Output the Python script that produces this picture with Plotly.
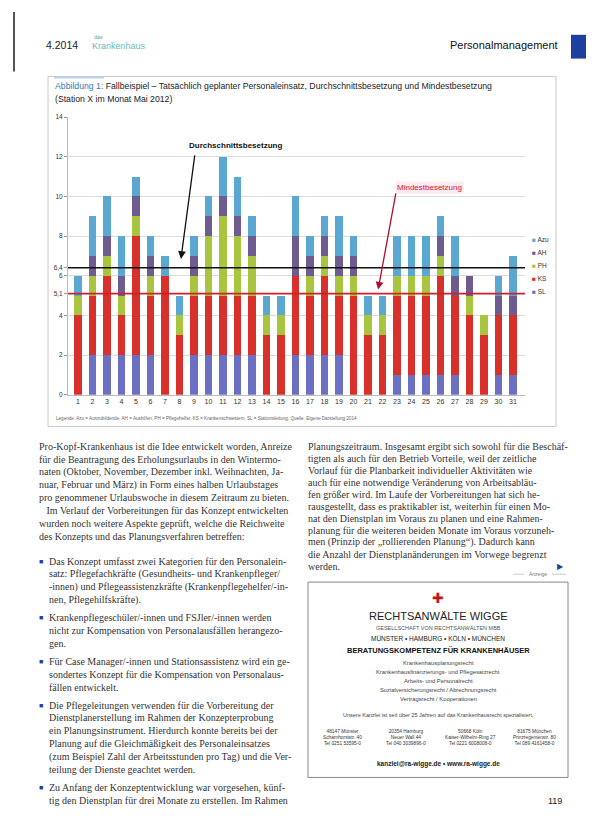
import plotly.graph_objects as go

W, H = 594, 824

def px(x):
    return x / W

def py(y):
    return 1 - y / H

# ---------------- data ----------------
days = list(range(1, 32))
day_labels = [str(d) for d in days]

series_names = ["SL", "KS", "PH", "AH", "Azu"]
sl  = [0, 2, 2, 2, 2, 2, 0, 0, 2, 2, 2, 2, 2, 0, 0, 2, 2, 2, 2, 0, 0, 0, 1, 1, 1, 1, 1, 0, 0, 1, 1]
ks  = [4, 3, 4, 2, 6, 3, 6, 3, 3, 3, 3, 3, 3, 3, 3, 4, 3, 4, 3, 5, 3, 3, 4, 4, 4, 5, 4, 4, 3, 3, 3]
ph  = [1, 1, 1, 1, 1, 1, 0, 1, 1, 3, 4, 3, 2, 1, 1, 0, 1, 1, 1, 1, 1, 1, 1, 1, 1, 1, 0, 1, 1, 0, 0]
ah  = [0, 1, 1, 1, 1, 1, 0, 0, 1, 1, 1, 1, 1, 0, 0, 2, 1, 1, 1, 1, 0, 0, 0, 0, 0, 1, 1, 1, 0, 1, 1]
azu = [1, 2, 2, 2, 1, 1, 1, 1, 1, 1, 2, 2, 1, 1, 1, 2, 1, 1, 2, 1, 1, 1, 2, 2, 2, 1, 2, 0, 0, 1, 2]
series_values = [sl, ks, ph, ah, azu]
series_colors = ["#6b70c2", "#d8302a", "#a9c43e", "#6e5b90", "#5aa7d2"]

avg_staff = 6.4
min_staff = 5.1

y_tick_vals = [0, 2, 4, 5.1, 6, 6.4, 8, 10, 12, 14]
y_tick_text = ["0", "2", "4", "5,1", "6", "6,4", "8", "10", "12", "14"]

title_line1 = "Fallbeispiel – Tatsächlich geplanter Personaleinsatz, Durchschnittsbesetzung und Mindestbesetzung"
title_line2 = "(Station X im Monat Mai 2012)"
source_text = "Legende: Azu = Auszubildende, AH = Aushilfen, PH = Pflegehelfer, KS = Krankenschwestern, SL = Stationsleitung; Quelle: Eigene Darstellung 2014"

left_col = [
    "Pro-Kopf-Krankenhaus ist die Idee entwickelt worden, Anreize",
    "für die Beantragung des Erholungsurlaubs in den Wintermo-",
    "naten (Oktober, November, Dezember inkl. Weihnachten, Ja-",
    "nuar, Februar und März) in Form eines halben Urlaubstages",
    "pro genommener Urlaubswoche in diesem Zeitraum zu bieten.",
    "   Im Verlauf der Vorbereitungen für das Konzept entwickelten",
    "wurden noch weitere Aspekte geprüft, welche die Reichweite",
    "des Konzepts und das Planungsverfahren betreffen:",
]
bullets = [
    ["Das Konzept umfasst zwei Kategorien für den Personalein-",
     "satz: Pflegefachkräfte (Gesundheits- und Krankenpfleger/",
     "-innen) und Pflegeassistenzkräfte (Krankenpflegehelfer/-in-",
     "nen, Pflegehilfskräfte)."],
    ["Krankenpflegeschüler/-innen und FSJler/-innen werden",
     "nicht zur Kompensation von Personalausfällen herangezo-",
     "gen."],
    ["Für Case Manager/-innen und Stationsassistenz wird ein ge-",
     "sondertes Konzept für die Kompensation von Personalaus-",
     "fällen entwickelt."],
    ["Die Pflegeleitungen verwenden für die Vorbereitung der",
     "Dienstplanerstellung im Rahmen der Konzepterprobung",
     "ein Planungsinstrument. Hierdurch konnte bereits bei der",
     "Planung auf die Gleichmäßigkeit des Personaleinsatzes",
     "(zum Beispiel Zahl der Arbeitsstunden pro Tag) und die Ver-",
     "teilung der Dienste geachtet werden."],
    ["Zu Anfang der Konzeptentwicklung war vorgesehen, künf-",
     "tig den Dienstplan für drei Monate zu erstellen. Im Rahmen"],
]
right_col = [
    "Planungszeitraum. Insgesamt ergibt sich sowohl für die Beschäf-",
    "tigten als auch für den Betrieb Vorteile, weil der zeitliche",
    "Vorlauf für die Planbarkeit individueller Aktivitäten wie",
    "auch für eine notwendige Veränderung von Arbeitsabläu-",
    "fen größer wird. Im Laufe der Vorbereitungen hat sich he-",
    "rausgestellt, dass es praktikabler ist, weiterhin für einen Mo-",
    "nat den Dienstplan im Voraus zu planen und eine Rahmen-",
    "planung für die weiteren beiden Monate im Voraus vorzuneh-",
    "men (Prinzip der „rollierenden Planung“). Dadurch kann",
    "die Anzahl der Dienstplanänderungen im Vorwege begrenzt",
    "werden.",
]
ad_lines = [
    ("RECHTSANWÄLTE WIGGE", 11, "#222", 609),
    ("GESELLSCHAFT VON RECHTSANWÄLTEN MBB", 5.5, "#555", 621),
    ("MÜNSTER • HAMBURG • KÖLN • MÜNCHEN", 6.5, "#222", 632),
    ("<b>BERATUNGSKOMPETENZ FÜR KRANKENHÄUSER</b>", 7.5, "#111", 644),
    ("Krankenhausplanungsrecht", 5.8, "#444", 657),
    ("Krankenhausfinanzierungs- und Pflegesatzrecht", 5.8, "#444", 666),
    ("Arbeits- und Personalrecht", 5.8, "#444", 675),
    ("Sozialversicherungsrecht / Abrechnungsrecht", 5.8, "#444", 684),
    ("Vertragsrecht / Kooperationen", 5.8, "#444", 693),
    ("Unsere Kanzlei ist seit über 25 Jahren auf das Krankenhausrecht spezialisiert.", 5.5, "#444", 709),
]
ad_addresses = [
    "48147 Münster\nScharnhorststr. 40\nTel 0251 53595-0",
    "20354 Hamburg\nNeuer Wall 44\nTel 040 3039896-0",
    "50668 Köln\nKaiser-Wilhelm-Ring 27\nTel 0221 6008008-0",
    "81675 München\nPrinzregentenstr. 80\nTel 089 4161458-0",
]

# ---------------- figure ----------------
fig = go.Figure()
for name, vals, col in zip(series_names, series_values, series_colors):
    fig.add_trace(go.Bar(
        x=days, y=vals, name=name,
        marker=dict(color=col, line=dict(width=0)),
        width=0.54, showlegend=False,
    ))

X0, X1 = 60, 517
Y0, Y1 = 386, 106
fig.update_layout(
    width=W, height=H,
    margin=dict(l=0, r=0, t=0, b=0),
    paper_bgcolor="white", plot_bgcolor="white",
    barmode="stack",
    font=dict(family="Arial", size=7, color="#333"),
    showlegend=False,
    xaxis=dict(
        domain=[px(X0), px(X1)],
        range=[1 - 10 / 14.5, 31 + 12 / 14.5],
        tickmode="array", tickvals=days, ticktext=day_labels,
        showgrid=False, zeroline=False,
        showline=True, linecolor="#bbb", linewidth=1,
        ticks="", tickfont=dict(size=7, color="#333"),
        anchor="y",
    ),
    yaxis=dict(
        domain=[py(Y0), py(Y1)],
        range=[0, 14],
        tickmode="array", tickvals=y_tick_vals, ticktext=y_tick_text,
        showgrid=True, gridcolor="#dcdcdc", gridwidth=1,
        zeroline=False, showline=True, linecolor="#bbb", linewidth=1,
        ticks="outside", ticklen=3, tickcolor="#999",
        tickfont=dict(size=6.5, color="#333"),
    ),
)

# reference lines
fig.add_shape(type="line", xref="x domain", yref="y", x0=0, x1=1,
              y0=avg_staff, y1=avg_staff, line=dict(color="#111", width=1.6))
fig.add_shape(type="line", xref="x domain", yref="y", x0=0, x1=1,
              y0=min_staff, y1=min_staff, line=dict(color="#d0202a", width=1.6))

# legend (top of stack first)
for i, (name, col) in enumerate(zip(series_names[::-1], series_colors[::-1])):
    yy = 229 + i * 13.2
    fig.add_annotation(xref="paper", yref="paper", x=px(522), y=py(yy),
                       xanchor="left", yanchor="middle", showarrow=False,
                       text=f"<span style='color:{col}'>■</span> {name}",
                       font=dict(size=6.5, color="#333"))

# chart frame
fig.add_shape(type="rect", xref="paper", yref="paper",
              x0=px(40), x1=px(548), y0=py(418), y1=py(65),
              line=dict(color="#c8c8c8", width=1), layer="below")
fig.add_shape(type="line", xref="paper", yref="paper",
              x0=px(46), x1=px(96), y0=py(66), y1=py(66),
              line=dict(color="#bcd3ea", width=2))

# titles
fig.add_annotation(xref="paper", yref="paper", x=px(45), y=py(75),
                   xanchor="left", yanchor="middle", showarrow=False,
                   text="<span style='color:#3a78b5'>Abbildung 1:</span> " + title_line1,
                   font=dict(size=8.7, color="#222"))
fig.add_annotation(xref="paper", yref="paper", x=px(45), y=py(88),
                   xanchor="left", yanchor="middle", showarrow=False,
                   text=title_line2, font=dict(size=8.7, color="#222"))
fig.add_annotation(xref="paper", yref="paper", x=px(46), y=py(410),
                   xanchor="left", yanchor="middle", showarrow=False,
                   text=source_text, font=dict(size=4.6, color="#666"))

# callouts
fig.add_annotation(x=8.1, y=6.85, xref="x", yref="y", ax=14, ay=-105,
                   text="", showarrow=True, arrowhead=2, arrowsize=1.2,
                   arrowwidth=1.3, arrowcolor="#111")
fig.add_annotation(xref="paper", yref="paper", x=px(228), y=py(135),
                   xanchor="center", yanchor="middle",
                   text="<b>Durchschnittsbesetzung</b>", showarrow=False,
                   font=dict(size=8, color="#111"), bgcolor="white")
fig.add_annotation(x=21.7, y=5.3, xref="x", yref="y", ax=18, ay=-98,
                   text="", showarrow=True, arrowhead=2, arrowsize=1.2,
                   arrowwidth=1.3, arrowcolor="#b0102a")
fig.add_annotation(xref="paper", yref="paper", x=px(421), y=py(177),
                   xanchor="center", yanchor="middle",
                   text="Mindestbesetzung", showarrow=False,
                   font=dict(size=8, color="#d0202a"), bgcolor="#fbeaf0")

# page header
fig.add_annotation(xref="paper", yref="paper", x=px(36), y=py(33),
                   xanchor="left", yanchor="middle", showarrow=False, text="4.2014",
                   font=dict(size=10.5, color="#222"))
fig.add_annotation(xref="paper", yref="paper", x=px(84), y=py(25),
                   xanchor="left", yanchor="middle", showarrow=False, text="das",
                   font=dict(size=5.5, color="#5aa"))
fig.add_annotation(xref="paper", yref="paper", x=px(82), y=py(34),
                   xanchor="left", yanchor="middle", showarrow=False, text="Krankenhaus",
                   font=dict(size=9, color="#6bb"))
fig.add_annotation(xref="paper", yref="paper", x=px(552), y=py(33),
                   xanchor="right", yanchor="middle", showarrow=False,
                   text="Personalmanagement",
                   font=dict(size=11, color="#111"))
fig.add_shape(type="rect", xref="paper", yref="paper",
              x0=px(563), x1=px(585), y0=py(47), y1=py(23),
              fillcolor="#1f3fa0", line=dict(width=0))
fig.add_shape(type="line", xref="paper", yref="paper",
              x0=px(6), x1=px(6), y0=py(0), y1=py(60),
              line=dict(color="#555", width=2))

# body text
body_font = dict(family="Liberation Serif", size=10, color="#333")
pitch = 13.0
y = 438
for line in left_col:
    fig.add_annotation(xref="paper", yref="paper", x=px(29), y=py(y),
                       xanchor="left", yanchor="middle", showarrow=False,
                       text=line, font=body_font)
    y += pitch
y += 12
for b in bullets:
    fig.add_annotation(xref="paper", yref="paper", x=px(29), y=py(y),
                       xanchor="left", yanchor="middle", showarrow=False,
                       text="■", font=dict(size=7, color="#1f3fa0"))
    for line in b:
        fig.add_annotation(xref="paper", yref="paper", x=px(39), y=py(y),
                           xanchor="left", yanchor="middle", showarrow=False,
                           text=line, font=body_font)
        y += pitch
    y += 5

rpitch = 12.1
y = 438
for line in right_col:
    fig.add_annotation(xref="paper", yref="paper", x=px(298), y=py(y),
                       xanchor="left", yanchor="middle", showarrow=False,
                       text=line, font=body_font)
    y += rpitch
fig.add_annotation(xref="paper", yref="paper", x=px(558), y=py(y - rpitch),
                   xanchor="right", yanchor="middle", showarrow=False, text="▶",
                   font=dict(size=8, color="#1f3fa0"))
fig.add_annotation(xref="paper", yref="paper", x=px(530), y=py(567),
                   xanchor="center", yanchor="middle", showarrow=False,
                   text="Anzeige", font=dict(size=5, color="#777"))
fig.add_shape(type="line", xref="paper", yref="paper",
              x0=px(505), x1=px(516), y0=py(567), y1=py(567),
              line=dict(color="#aaa", width=0.6))
fig.add_shape(type="line", xref="paper", yref="paper",
              x0=px(544), x1=px(558), y0=py(567), y1=py(567),
              line=dict(color="#aaa", width=0.6))

# advertisement
fig.add_shape(type="rect", xref="paper", yref="paper",
              x0=px(300), x1=px(560), y0=py(772), y1=py(575),
              line=dict(color="#888", width=1))
fig.add_annotation(xref="paper", yref="paper", x=px(430), y=py(591),
                   xanchor="center", yanchor="middle", showarrow=False, text="✚",
                   font=dict(size=14, color="#c01818"))
for txt, size, col, yy in ad_lines:
    fig.add_annotation(xref="paper", yref="paper", x=px(430), y=py(yy),
                       xanchor="center", yanchor="middle", showarrow=False, text=txt,
                       font=dict(size=size, color=col, family="Arial"))
for i, addr in enumerate(ad_addresses):
    fig.add_annotation(xref="paper", yref="paper", x=px(334 + i * 64), y=py(732),
                       xanchor="center", yanchor="middle", showarrow=False,
                       text=addr.replace("\n", "<br>"),
                       font=dict(size=4.8, color="#333", family="Arial"))
fig.add_annotation(xref="paper", yref="paper", x=px(430), y=py(758),
                   xanchor="center", yanchor="middle", showarrow=False,
                   text="<b>kanzlei@ra-wigge.de • www.ra-wigge.de</b>",
                   font=dict(size=6.5, color="#222", family="Arial"))
fig.add_annotation(xref="paper", yref="paper", x=px(556), y=py(796),
                   xanchor="right", yanchor="middle", showarrow=False, text="119",
                   font=dict(size=9, color="#222"))

fig.write_html("out.html")
